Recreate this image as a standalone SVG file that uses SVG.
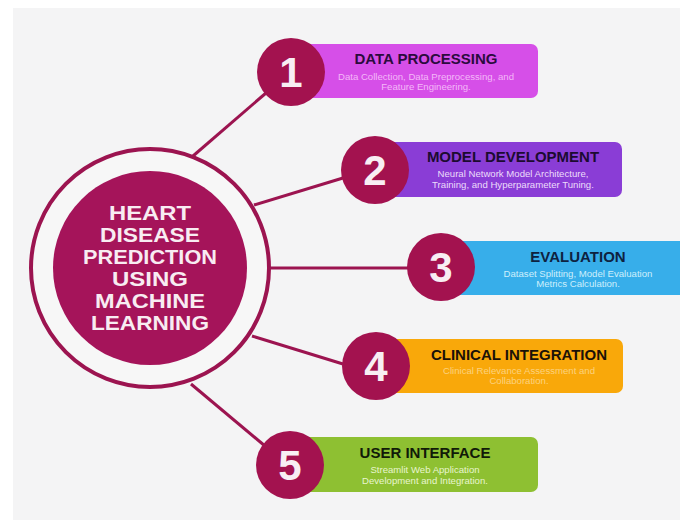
<svg xmlns="http://www.w3.org/2000/svg" width="680" height="525" viewBox="0 0 680 525">
<style>
.title{font-family:"Liberation Sans",Arial,sans-serif;font-weight:bold;font-size:15px;text-anchor:middle}
.sub{font-family:"Liberation Sans",Arial,sans-serif;font-size:9.6px;text-anchor:middle}
.num{font-family:"Liberation Sans",Arial,sans-serif;font-weight:bold;font-size:42px;fill:#f8eef3;text-anchor:middle}
.badge{fill:#a3124f}
.center{font-family:"Liberation Sans",Arial,sans-serif;font-weight:bold;font-size:20.5px;fill:#f8ecf2;text-anchor:middle}
.conn{stroke:#9c1450;stroke-width:3;fill:none}
</style>
<rect x="0" y="0" width="680" height="525" fill="#ffffff"/>
<rect x="13" y="8" width="667" height="512" fill="#f4f4f5"/>
<g id="connectors">
<line class="conn" x1="193" y1="156" x2="266" y2="93"/>
<line class="conn" x1="254" y1="205" x2="343" y2="178"/>
<line class="conn" x1="269" y1="268" x2="408" y2="268"/>
<line class="conn" x1="252" y1="336" x2="343" y2="364"/>
<line class="conn" x1="191" y1="384" x2="265" y2="446"/>
</g>
<g id="hub">
<circle cx="150" cy="268" r="119" fill="#f7f7f7" stroke="#9c1450" stroke-width="4"/>
<circle cx="150" cy="268" r="97" fill="#a5145a"/>
<text class="center" x="150" y="220" textLength="82" lengthAdjust="spacingAndGlyphs">HEART</text>
<text class="center" x="150" y="242" textLength="100" lengthAdjust="spacingAndGlyphs">DISEASE</text>
<text class="center" x="150" y="264" textLength="134" lengthAdjust="spacingAndGlyphs">PREDICTION</text>
<text class="center" x="150" y="286" textLength="76" lengthAdjust="spacingAndGlyphs">USING</text>
<text class="center" x="150" y="308" textLength="110" lengthAdjust="spacingAndGlyphs">MACHINE</text>
<text class="center" x="150" y="330" textLength="118" lengthAdjust="spacingAndGlyphs">LEARNING</text>
</g>
<g id="step1">
<rect x="295" y="44" width="243" height="54" rx="7" fill="#d64fe8"/>
<circle class="badge" cx="291" cy="72" r="34"/>
<text class="num" x="291" y="87">1</text>
<text class="title" x="426" y="64" fill="#2b0b3d">DATA PROCESSING</text>
<text class="sub" x="426" y="80" fill="#f4b8f8">Data Collection, Data Preprocessing, and</text>
<text class="sub" x="426" y="90" fill="#f4b8f8">Feature Engineering.</text>
</g>
<g id="step2">
<rect x="380" y="142" width="242" height="55" rx="7" fill="#8a3dd6"/>
<circle class="badge" cx="375" cy="170" r="34"/>
<text class="num" x="375" y="185">2</text>
<text class="title" x="513" y="162" fill="#1c0b30">MODEL DEVELOPMENT</text>
<text class="sub" x="513" y="177" fill="#ecdcfb">Neural Network Model Architecture,</text>
<text class="sub" x="513" y="188" fill="#ecdcfb">Training, and Hyperparameter Tuning.</text>
</g>
<g id="step3">
<rect x="445" y="241" width="235" height="54" fill="#37aeea"/>
<circle class="badge" cx="441" cy="267" r="34"/>
<text class="num" x="441" y="282">3</text>
<text class="title" x="578" y="262" fill="#0e2240">EVALUATION</text>
<text class="sub" x="578" y="277" fill="#cdeefc">Dataset Splitting, Model Evaluation</text>
<text class="sub" x="578" y="287" fill="#cdeefc">Metrics Calculation.</text>
</g>
<g id="step4">
<rect x="380" y="339" width="243" height="54" rx="7" fill="#f9a80a"/>
<circle class="badge" cx="376" cy="366" r="34"/>
<text class="num" x="376" y="381">4</text>
<text class="title" x="519" y="360" fill="#1b1208">CLINICAL INTEGRATION</text>
<text class="sub" x="519" y="374" fill="#fcd27e">Clinical Relevance Assessment and</text>
<text class="sub" x="519" y="384" fill="#fcd27e">Collaboration.</text>
</g>
<g id="step5">
<rect x="295" y="437" width="243" height="55" rx="7" fill="#8ec032"/>
<circle class="badge" cx="290" cy="465" r="34"/>
<text class="num" x="290" y="480">5</text>
<text class="title" x="425" y="458" fill="#111a08">USER INTERFACE</text>
<text class="sub" x="425" y="473" fill="#e8f5cf">Streamlit Web Application</text>
<text class="sub" x="425" y="484" fill="#e8f5cf">Development and Integration.</text>
</g>
</svg>
